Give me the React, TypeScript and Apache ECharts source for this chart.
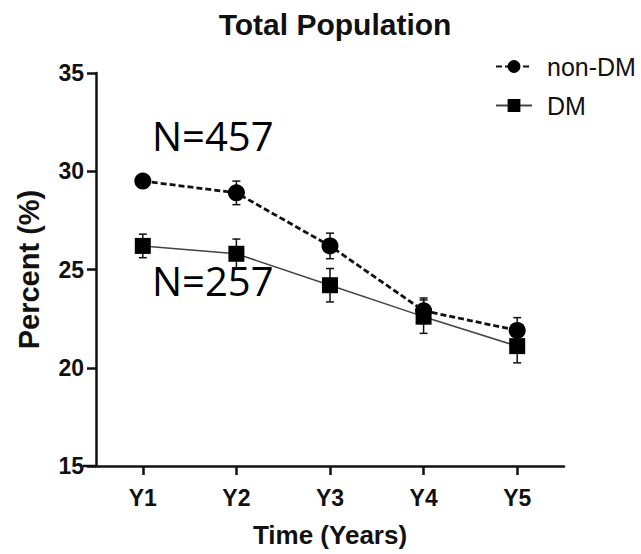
import React, { useEffect, useRef } from "react";
import * as echarts from "echarts";

const categories = ["Y1", "Y2", "Y3", "Y4", "Y5"];
const nonDM = [29.5, 28.9, 26.2, 22.9, 21.9];
const nonDMErr = [0.3, 0.6, 0.65, 0.65, 0.65];
const dm = [26.2, 25.8, 24.2, 22.6, 21.1];
const dmErr = [0.6, 0.75, 0.85, 0.85, 0.85];
const yTicks = [15, 20, 25, 30, 35];
const annotations = ["N=457", "N=257"];

const FONT = "Liberation Sans, Arial, sans-serif";

function errorSeries(name: string, values: number[], errs: number[], color: string) {
  const data = values.map((v, i) => [i + 1, v - errs[i], v + errs[i]]);
  return {
    type: "custom",
    name: name + "-err",
    data,
    z: 1,
    silent: true,
    renderItem: (params: any, api: any) => {
      const x = api.value(0);
      const lo = api.coord([x, api.value(1)]);
      const hi = api.coord([x, api.value(2)]);
      const cap = 4;
      const style = { stroke: color, lineWidth: 1.5 };
      return {
        type: "group",
        children: [
          { type: "line", shape: { x1: lo[0], y1: lo[1], x2: hi[0], y2: hi[1] }, style },
          { type: "line", shape: { x1: lo[0] - cap, y1: lo[1], x2: lo[0] + cap, y2: lo[1] }, style },
          { type: "line", shape: { x1: hi[0] - cap, y1: hi[1], x2: hi[0] + cap, y2: hi[1] }, style },
        ],
      };
    },
    encode: { x: 0, y: [1, 2] },
  };
}

export default function App() {
  const ref = useRef<HTMLDivElement>(null);
  useEffect(() => {
    if (!ref.current) return;
    const chart = echarts.init(ref.current, null, { renderer: "svg" });
    chart.setOption({
      animation: false,
      backgroundColor: "#ffffff",
      title: {
        text: "Total Population",
        left: 330,
        textAlign: "center",
        top: 4,
        textStyle: { fontFamily: FONT, fontWeight: "bold", fontSize: 30, color: "#111" },
      },
      legend: {
        orient: "vertical",
        left: 490,
        top: 49,
        itemWidth: 36,
        itemHeight: 16,
        itemGap: 14,
        data: ["non-DM", "DM"],
        textStyle: { fontFamily: FONT, fontSize: 25, color: "#111", padding: [0, 0, 0, 10] },
      },
      grid: { left: 96, right: 77, top: 73, bottom: 554 - 466 },
      xAxis: {
        type: "value",
        min: 0.5,
        max: 5.5,
        interval: 1,
        splitLine: { show: false },
        axisLine: { show: true, onZero: false, lineStyle: { color: "#111", width: 2.5 } },
        axisTick: { show: true, length: 9, lineStyle: { color: "#111", width: 2.5 }, customValues: [1, 2, 3, 4, 5] },
        axisLabel: {
          fontFamily: FONT,
          fontWeight: "bold",
          fontSize: 23,
          color: "#111",
          margin: 20,
          customValues: [1, 2, 3, 4, 5],
          formatter: (v: number) => categories[Math.round(v) - 1] ?? "",
        },
        name: "Time (Years)",
        nameLocation: "middle",
        nameGap: 56,
        nameTextStyle: { fontFamily: FONT, fontWeight: "bold", fontSize: 26, color: "#111" },
      },
      yAxis: {
        type: "value",
        min: yTicks[0],
        max: yTicks[yTicks.length - 1],
        interval: 5,
        splitLine: { show: false },
        axisLine: { show: true, lineStyle: { color: "#111", width: 2.5 } },
        axisTick: { show: true, length: 9, lineStyle: { color: "#111", width: 2.5 } },
        axisLabel: { fontFamily: FONT, fontWeight: "bold", fontSize: 23, color: "#111", margin: 12 },
        name: "Percent (%)",
        nameLocation: "middle",
        nameGap: 53,
        nameTextStyle: { fontFamily: FONT, fontWeight: "bold", fontSize: 29, color: "#111" },
      },
      graphic: [
        { type: "line", shape: { x1: 83, y1: 466, x2: 96, y2: 466 }, style: { stroke: "#111", lineWidth: 2.5 } },
        {
          type: "text",
          left: 152,
          top: 115,
          style: { text: annotations[0], fontFamily: "Open Sans, sans-serif", fontSize: 40, fill: "#000" },
        },
        {
          type: "text",
          left: 152,
          top: 260,
          style: { text: annotations[1], fontFamily: "Open Sans, sans-serif", fontSize: 40, fill: "#000" },
        },
      ],
      series: [
        errorSeries("non-DM", nonDM, nonDMErr, "#111"),
        errorSeries("DM", dm, dmErr, "#111"),
        {
          type: "line",
          name: "non-DM",
          data: nonDM.map((v, i) => [i + 1, v]),
          symbol: "circle",
          symbolSize: 17,
          z: 3,
          itemStyle: { color: "#000" },
          lineStyle: { color: "#111", width: 2.8, type: [6, 3] },
        },
        {
          type: "line",
          name: "DM",
          data: dm.map((v, i) => [i + 1, v]),
          symbol: "rect",
          symbolSize: 16,
          z: 4,
          itemStyle: { color: "#000" },
          lineStyle: { color: "#444", width: 1.5 },
        },
      ],
    });
    return () => chart.dispose();
  }, []);
  return <div ref={ref} style={{ width: 641, height: 554, position: "absolute", left: 0, top: 0 }} />;
}
